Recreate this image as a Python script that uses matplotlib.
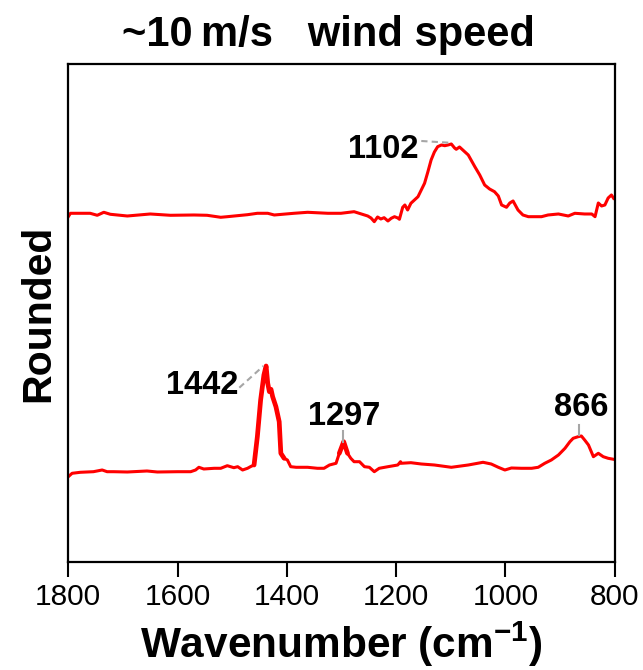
import matplotlib.pyplot as plt
import numpy as np

plt.rcParams['font.family'] = ['Liberation Sans', 'DejaVu Sans']
plt.rcParams['mathtext.fontset'] = 'custom'
plt.rcParams['mathtext.rm'] = 'Liberation Sans'
plt.rcParams['mathtext.bf'] = 'Liberation Sans:bold'

# top spectrum (~10 m/s, upper trace)
top_wn = [1800, 1796, 1760, 1747, 1735, 1723, 1692, 1650, 1613, 1570, 1546, 1521,
          1509, 1472, 1454, 1435, 1423, 1387, 1362, 1325, 1301, 1277, 1252, 1246,
          1240, 1234, 1228, 1222, 1215, 1209, 1203, 1197, 1194, 1188, 1184, 1179,
          1173, 1160, 1148, 1142, 1136, 1130, 1124, 1117, 1111, 1105, 1099, 1093,
          1090, 1084, 1078, 1068, 1056, 1047, 1038, 1029, 1020, 1013, 1007, 998,
          992, 986, 977, 968, 958, 934, 922, 903, 885, 873, 855, 842, 836, 830,
          824, 818, 812, 806, 802]
top_int = [345.3, 348.7, 348.7, 346.7, 349.7, 347.7, 346.0, 348.0, 346.7, 347.0, 346.7, 344.7,
           345.3, 347.3, 348.7, 348.7, 347.0, 348.7, 349.7, 348.7, 348.7, 350.3, 346.0, 344.0,
           340.3, 345.0, 343.0, 344.3, 341.0, 343.7, 345.3, 344.0, 342.7, 354.7, 357.0, 352.0,
           358.7, 365.3, 378.7, 390.0, 402.0, 410.0, 415.3, 417.0, 416.3, 417.0, 418.0, 414.0,
           412.7, 415.0, 412.0, 407.0, 395.3, 387.0, 377.0, 373.0, 370.3, 366.0, 357.0, 354.7,
           359.0, 361.0, 352.0, 347.0, 345.3, 345.3, 347.0, 348.0, 346.0, 348.7, 348.0, 348.0, 345.3, 359.0,
           356.0, 357.0, 364.0, 367.0, 363.7]

# bottom spectrum
bot_wn = [1800, 1793, 1778, 1754, 1738, 1729, 1717, 1692, 1656, 1637, 1600, 1576,
          1567, 1561, 1552, 1533, 1521, 1509, 1497, 1490, 1481, 1472, 1466, 1460,
          1454, 1448, 1442, 1438, 1435, 1432, 1429, 1426, 1420, 1414, 1411, 1405,
          1399, 1393, 1383, 1362, 1344, 1332, 1322, 1310, 1304, 1296, 1289, 1283,
          1277, 1267, 1258, 1249, 1240, 1231, 1215, 1197, 1192, 1191, 1173, 1154,
          1130, 1099, 1068, 1041, 1026, 1013, 1001, 989, 971, 952, 940, 928, 916,
          903, 891, 882, 876, 867, 861, 855, 848, 839, 830, 821, 812, 802]
bot_int = [85.3, 88.7, 89.7, 90.3, 92.0, 90.3, 90.3, 90.0, 91.0, 90.0, 90.3, 90.3,
           92.0, 94.7, 93.0, 93.7, 93.7, 96.3, 94.3, 95.3, 92.0, 93.7, 95.5, 97.0,
           125.3, 162.0, 187.0, 196.0, 178.7, 170.3, 172.7, 165.3, 155.3, 140.3, 108.7, 103.7,
           102.0, 95.3, 94.7, 94.7, 93.7, 93.7, 97.0, 98.7, 108.7, 120.3, 108.7, 103.7,
           100.3, 100.3, 95.3, 94.7, 90.3, 93.7, 95.3, 97.0, 100.3, 98.7, 99.3, 98.0,
           97.0, 94.7, 97.0, 99.7, 98.0, 94.7, 92.0, 94.0, 93.7, 93.7, 94.7, 98.7, 102.0,
           107.0, 113.7, 120.3, 123.7, 125.3, 126.0, 122.0, 117.0, 105.3, 108.7, 105.3, 103.7, 102.7]

# peak labels: text, label position, line start, line end
peak_text = ['1102', '1442', '1297', '866']
peak_label_xy = [(1159, 412), (1489, 176), (1295, 145), (862, 154)]
peak_line = [((1154, 421), (1104, 419.3)),
             ((1487, 174.3), (1443, 196)),
             ((1297, 131), (1297, 120.3)),
             ((866, 137), (866, 127))]
peak_ha = ['right', 'right', 'center', 'center']

fig = plt.figure(figsize=(6.43, 6.70), dpi=100)
ax = fig.add_axes([0.1062, 0.1612, 0.8498, 0.7433])

ax.plot(top_wn, top_int, color='#ff0000', lw=2.2)
ax.plot(bot_wn, bot_int, color='#ff0000', lw=2.2)

# the sharp peaks look heavier in the original
bw = np.array(bot_wn)
bi = np.array(bot_int)
for lo, hi in [(1400, 1462), (1286, 1306)]:
    m = (bw >= lo) & (bw <= hi)
    ax.plot(bw[m], bi[m], color='#ff0000', lw=3.4, solid_capstyle='round')

for txt, (tx, ty), (p0, p1), ha in zip(peak_text, peak_label_xy, peak_line, peak_ha):
    ax.text(tx, ty, txt, fontsize=23.5, fontweight='bold', ha=ha, va='center')
    ls = '--' if ha == 'right' else '-'
    ax.plot([p0[0], p1[0]], [p0[1], p1[1]], color='#a6a6a6', lw=1.5, ls=ls, dashes=(3, 2) if ls == '--' else (None, None))

ax.set_xlim(1800, 800)
ax.set_ylim(0, 498)
ax.set_xticks([1800, 1600, 1400, 1200, 1000, 800])
ax.set_yticks([])
ax.tick_params(axis='x', direction='out', length=11, width=1.5, labelsize=21.5, pad=4)
for s in ax.spines.values():
    s.set_linewidth(1.6)

ax.set_xlabel(r'Wavenumber (cm$^{\mathbf{-1}}$)', fontsize=30.5, fontweight='bold', labelpad=6)
ax.set_ylabel('Rounded', fontsize=29.5, fontweight='bold', labelpad=8)
fig.text(328 / 643, 1 - 35 / 670, '~10\u2009m/s   wind speed', fontsize=30, fontweight='bold',
         ha='center', va='center')

fig.savefig('out.png', dpi=100)
